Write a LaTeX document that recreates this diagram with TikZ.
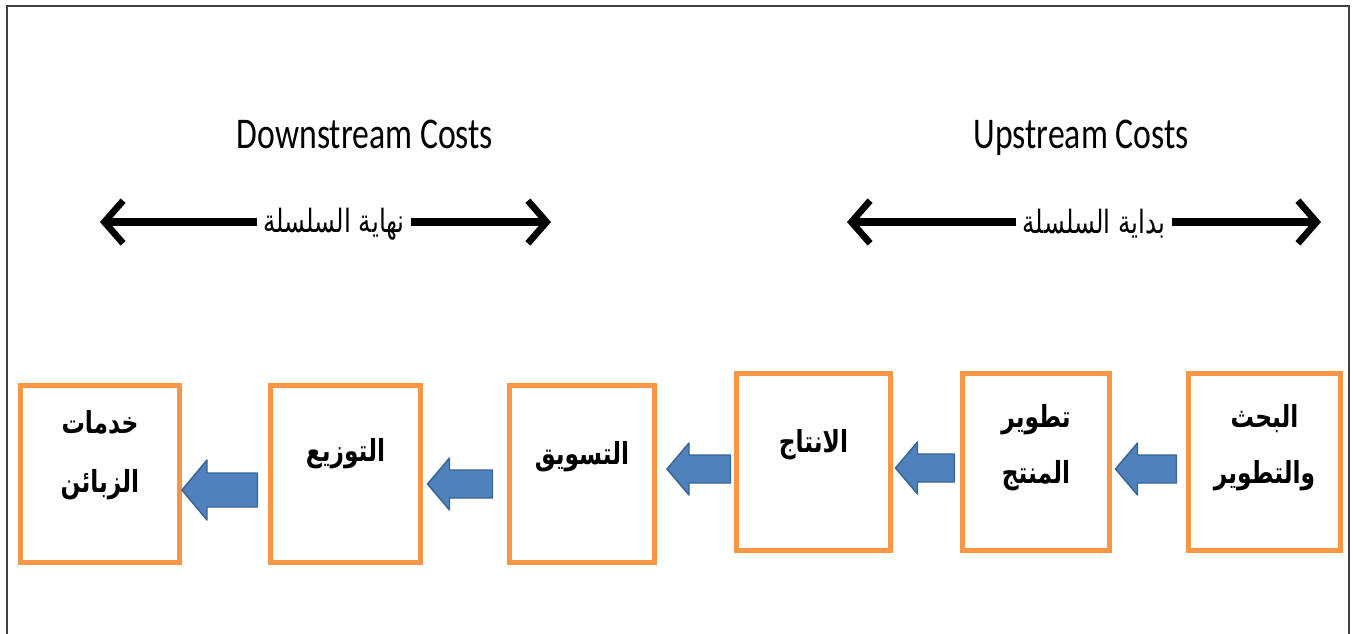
\documentclass[tikz,border=0pt]{standalone}
\usepackage{graphicx}
\usepackage{fontspec}
\setmainfont{Carlito}
\newfontfamily\arabicfont[Script=Arabic]{DejaVu Sans}
\usetikzlibrary{arrows.meta,calc}
\TeXXeTstate=1
\definecolor{boxorange}{HTML}{F79646}
\definecolor{arrowblue}{HTML}{4F81BD}
\definecolor{arrowedge}{HTML}{3A6492}
\definecolor{framegray}{HTML}{404040}
\newcommand\tall[1]{\scalebox{1}[1.3]{#1}}
\newcommand\ar[1]{{\arabicfont\beginR #1\endR}}
\newcommand\twolines[3]{\tall{\begin{tabular}{@{}c@{}}\ar{#1}\\[#3]\ar{#2}\end{tabular}}}
% #1 tip, #2 tail, #3 head length, #4 head half-width, #5 shaft half-width (px)
\newcommand\blockarrow[5]{%
  \path[blockarr] (#1) -- ($(#1)+(#3,-#4)$) -- ($(#1)+(#3,-#5)$) -- ($(#2)+(0,-#5)$)
    -- ($(#2)+(0,#5)$) -- ($(#1)+(#3,#5)$) -- ($(#1)+(#3,#4)$) -- cycle;}
\begin{document}
\begin{tikzpicture}[x=0.75pt,y=-0.75pt,
  stage/.style={draw=boxorange, line width=3.75pt, minimum width=#1*0.75pt,
    minimum height=132.75pt, inner sep=0pt, fill=white},
  stagetext/.style={font=\bfseries\fontsize{17.5}{21}\selectfont, inner sep=0pt},
  title/.style={font=\fontsize{25.3}{30}\selectfont, inner sep=0pt, anchor=base},
  dbl/.style={line width=5.5pt, {Straight Barb[length=14pt,width=32pt,line width=5pt]}-{Straight Barb[length=14pt,width=32pt,line width=5pt]}},
  dbllabel/.style={fill=white, inner xsep=5pt, inner ysep=2pt, font=\fontsize{18.5}{22}\selectfont},
  blockarr/.style={fill=arrowblue, draw=arrowedge, line width=1.1pt, line join=round},
  frameline/.style={draw=framegray, line width=2.2pt}]
\useasboundingbox (0,0) rectangle (1353,633);
\draw[frameline] (7,640) -- (7,6) -- (1349,6) -- (1349,640);

% titles
\node[title] (down) at (365,148) {\tall{Downstream Costs}};
\node[title] (up) at (1081,148) {\tall{Upstream Costs}};

% double arrows
\coordinate (dl1) at (100,222);
\coordinate (dl2) at (551,222);
\draw[dbl] (dl1) -- (dl2);
\node[dbllabel] (dlab) at (334,224) {\tall{\ar{نهاية السلسلة}}};
\coordinate (ul1) at (847,222);
\coordinate (ul2) at (1321,222);
\draw[dbl] (ul1) -- (ul2);
\node[dbllabel] (ulab) at (1094,224) {\tall{\ar{بداية السلسلة}}};

% stages
\node[stage=159] (b1) at (100,474) {};
\node[stage=150] (b2) at (345.5,474) {};
\node[stage=145] (b3) at (582,474) {};
\node[stage=154] (b4) at (813.5,462) {};
\node[stage=147] (b5) at (1036,462) {};
\node[stage=152] (b6) at (1264.5,462) {};

\node[stagetext] (t1) at ($(b1.center)+(0,-18)$) {\twolines{خدمات}{الزبائن}{13pt}};
\node[stagetext] (t2) at ($(b2.center)+(0,-20)$) {\tall{\ar{التوزيع}}};
\node[stagetext] (t3) at ($(b3.center)+(0,-17)$) {\tall{\ar{التسويق}}};
\node[stagetext] (t4) at ($(b4.center)+(0,-17)$) {\tall{\ar{الانتاج}}};
\node[stagetext] (t5) at ($(b5.center)+(0,-14)$) {\twolines{تطوير}{المنتج}{11pt}};
\node[stagetext] (t6) at ($(b6.center)+(0,-14)$) {\twolines{البحث}{والتطوير}{11pt}};

% block arrows (right to left)
\coordinate (a1h) at ($(b1.east)+(0,16)$);
\coordinate (a1t) at ($(b2.west)+(-10.5,16)$);
\blockarrow{a1h}{a1t}{25}{30}{17}
\coordinate (a2h) at ($(b2.east)+(4.5,10)$);
\coordinate (a2t) at ($(b3.west)+(-14.5,10)$);
\blockarrow{a2h}{a2t}{22}{26}{14}
\coordinate (a3h) at ($(b3.east)+(10,-5)$);
\coordinate (a3t) at ($(b4.west)+(-3.5,7)$);
\blockarrow{a3h}{a3t}{22}{26}{14}
\coordinate (a4h) at ($(b4.east)+(2.5,6)$);
\coordinate (a4t) at ($(b5.west)+(-5.5,6)$);
\blockarrow{a4h}{a4t}{22}{26}{14}
\coordinate (a5h) at ($(b5.east)+(3.5,7)$);
\coordinate (a5t) at ($(b6.west)+(-9.5,7)$);
\blockarrow{a5h}{a5t}{22}{26}{14}
\end{tikzpicture}
\end{document}
